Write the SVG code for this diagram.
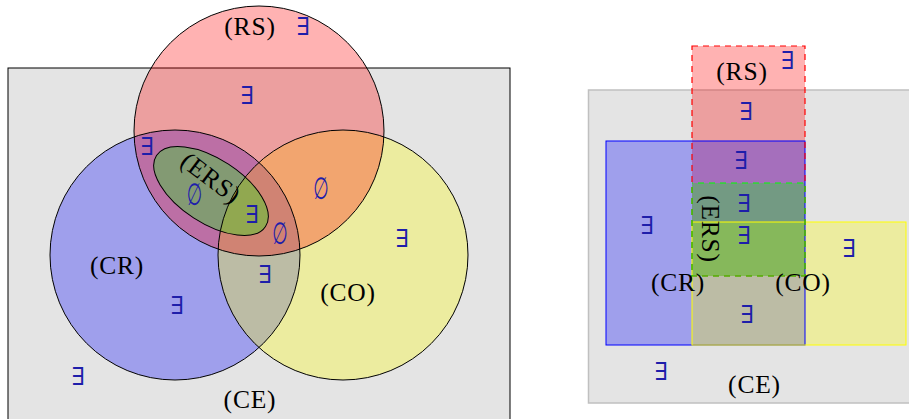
<svg xmlns="http://www.w3.org/2000/svg" width="909" height="419" viewBox="0 0 909 419">
<style>
.lbl{font-family:"Liberation Serif","DejaVu Serif",serif;font-size:25.5px;fill:#000;text-anchor:middle;letter-spacing:0.8px}
.ex{font-family:"DejaVu Serif",serif;font-size:25px;fill:#1e1eaa;text-anchor:middle}
.es{font-family:"DejaVu Sans",sans-serif;font-size:22px;fill:#1e1eaa;text-anchor:middle}
.ol{fill:none;stroke:#000;stroke-width:1}
</style>
<rect width="909" height="419" fill="#fff"/>
<!-- Left diagram -->
<g id="CE-left"><rect x="8" y="68" width="502" height="360" fill="#e4e4e4" stroke="#000" stroke-width="1"/></g>
<g id="CR-left"><circle cx="175" cy="255" r="125" fill="#0000ff" fill-opacity="0.3"/></g>
<g id="CO-left"><circle cx="343" cy="255" r="125" fill="#ffff00" fill-opacity="0.3"/></g>
<g id="RS-left"><circle cx="259" cy="131" r="125" fill="#ff0000" fill-opacity="0.3"/></g>
<g id="ERS-left"><ellipse cx="211" cy="191" rx="65" ry="32" transform="rotate(33 211 191)" fill="#00ff00" fill-opacity="0.3"/></g>
<g id="outlines-left">
<circle class="ol" cx="175" cy="255" r="125"/>
<circle class="ol" cx="343" cy="255" r="125"/>
<circle class="ol" cx="259" cy="131" r="125"/>
<ellipse class="ol" cx="211" cy="191" rx="65" ry="32" transform="rotate(33 211 191)"/>
</g>
<g id="labels-left">
<text class="lbl" x="250" y="35">(RS)</text>
<text class="lbl" x="117" y="274">(CR)</text>
<text class="lbl" x="348" y="301">(CO)</text>
<text class="lbl" x="250" y="408">(CE)</text>
<text class="lbl" x="0" y="0" transform="translate(211 178) rotate(37)" dominant-baseline="central">(ERS)</text>
<text class="ex" x="303" y="35">∃</text>
<text class="ex" x="247" y="104">∃</text>
<text class="ex" x="147" y="155">∃</text>
<text class="ex" x="252" y="223">∃</text>
<text class="ex" x="402" y="247">∃</text>
<text class="ex" x="265" y="283">∃</text>
<text class="ex" x="177" y="314">∃</text>
<text class="ex" x="78" y="385">∃</text>
<text class="es" transform="translate(194.5 195) scale(0.8 1.4)" dominant-baseline="central">∅</text>
<text class="es" transform="translate(280 234) scale(0.8 1.4)" dominant-baseline="central">∅</text>
<text class="es" transform="translate(321 189) scale(0.8 1.4)" dominant-baseline="central">∅</text>
</g>
<!-- Right diagram -->
<g id="CE-right"><rect x="588.5" y="90" width="330" height="313" fill="#e4e4e4" stroke="#c0c0c0" stroke-width="1.5"/></g>
<g id="RS-right"><rect x="692" y="46" width="113" height="230" fill="#ff0000" fill-opacity="0.3"/></g>
<g id="CR-right"><rect x="606" y="141" width="199" height="204" fill="#0000ff" fill-opacity="0.3"/></g>
<g id="CO-right"><rect x="692" y="222" width="214" height="123" fill="#ffff00" fill-opacity="0.3"/></g>
<g id="ERS-right"><rect x="692" y="183" width="113" height="93" fill="#00ff00" fill-opacity="0.3"/></g>
<g id="outlines-right" fill="none">
<rect x="606" y="141" width="199" height="204" stroke="#0000ff" stroke-width="1"/>
<rect x="692" y="222" width="214" height="123" stroke="#ffff00" stroke-width="1"/>
<rect x="692" y="46" width="113" height="230" stroke="#ff0000" stroke-width="1.2" stroke-dasharray="6 5"/>
<rect x="692" y="183" width="113" height="93" stroke="#00ff00" stroke-width="1.2" stroke-dasharray="6 5" stroke-dashoffset="5"/>
</g>
<g id="labels-right">
<text class="lbl" x="742" y="80">(RS)</text>
<text class="lbl" x="678" y="291">(CR)</text>
<text class="lbl" x="803" y="291">(CO)</text>
<text class="lbl" x="754.5" y="393">(CE)</text>
<text class="lbl" x="0" y="0" transform="translate(710 229) rotate(90)" dominant-baseline="central">(ERS)</text>
<text class="ex" x="787.5" y="69">∃</text>
<text class="ex" x="746" y="120">∃</text>
<text class="ex" x="741" y="169">∃</text>
<text class="ex" x="744" y="212">∃</text>
<text class="ex" x="744" y="244">∃</text>
<text class="ex" x="647" y="234">∃</text>
<text class="ex" x="849" y="257">∃</text>
<text class="ex" x="747" y="323">∃</text>
<text class="ex" x="661" y="380">∃</text>
</g>
</svg>
